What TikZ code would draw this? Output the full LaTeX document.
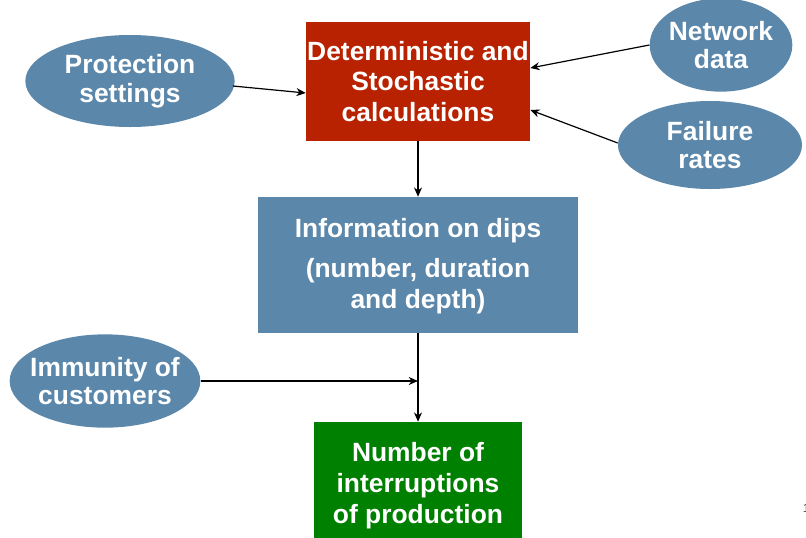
\documentclass[tikz,border=0pt]{standalone}
\usepackage{fontspec}
\setmainfont{Liberation Sans}
\usetikzlibrary{arrows.meta,shapes.geometric,positioning}
\definecolor{calcred}{RGB}{184,34,0}
\definecolor{dipblue}{RGB}{91,135,170}
\definecolor{prodgreen}{RGB}{0,128,0}

\begin{document}
\begin{tikzpicture}[x=0.75pt,y=-0.75pt,
    box/.style={draw=none,text=white,font=\bfseries\fontsize{19.8}{23.2}\selectfont,align=center,inner sep=0pt},
    inputs/.style={ellipse,fill=dipblue,text=white,font=\bfseries\fontsize{19.8}{21.5}\selectfont,align=center,inner sep=0pt},
    link/.style={-{Stealth[length=7pt,width=6pt]},line width=0.9pt}]
  \useasboundingbox (0,0) rectangle (806,537);
  \clip (0,0) rectangle (806,537);
  % blocks
  \node[box,fill=calcred,minimum width=168pt,minimum height=89pt] (calc) at (418,81.5)
    {Deterministic and\\Stochastic\\calculations};
  \node[box,fill=dipblue,minimum width=240pt,minimum height=102pt] (dips) at (418,265)
    {\rule{0pt}{16pt}Information on dips\\[7.5pt](number, duration\\and depth)};
  \node[box,fill=prodgreen,minimum width=156pt,minimum height=96pt] (prod) at (418,486)
    {Number of\\interruptions\\of production};
  % inputs
  \node[inputs,minimum width=157pt,minimum height=69pt] (prot) at (130,81) {Protection\\settings};
  \node[inputs,minimum width=107pt,minimum height=70pt,inner xsep=-2pt] (net) at (721,45) {Network\\data};
  \node[inputs,minimum width=138pt,minimum height=66pt] (fail) at (710,145) {Failure\\rates};
  \node[inputs,minimum width=143pt,minimum height=70pt,inner xsep=-6pt] (immu) at (105,381) {Immunity of\\customers};
  \coordinate (join) at (418,381);
  % connectors
  \draw[link] (prot.east) ++(-2,5) -- (calc.west |- 0,93);
  \draw[link] (net.west) -- (calc.east |- 0,68);
  \draw[link] (fail.west) ++(0,-2) -- (calc.east |- 0,110);
  \draw[link] (calc) -- (dips);
  \draw[link] (dips) -- (prod);
  \draw[link] (immu.east) -- (join);
  \node[anchor=base west,inner sep=0pt,text=black!70,font=\fontsize{9}{10}\selectfont] (pagenum) at (802.5,512) {1};
\end{tikzpicture}
\end{document}
